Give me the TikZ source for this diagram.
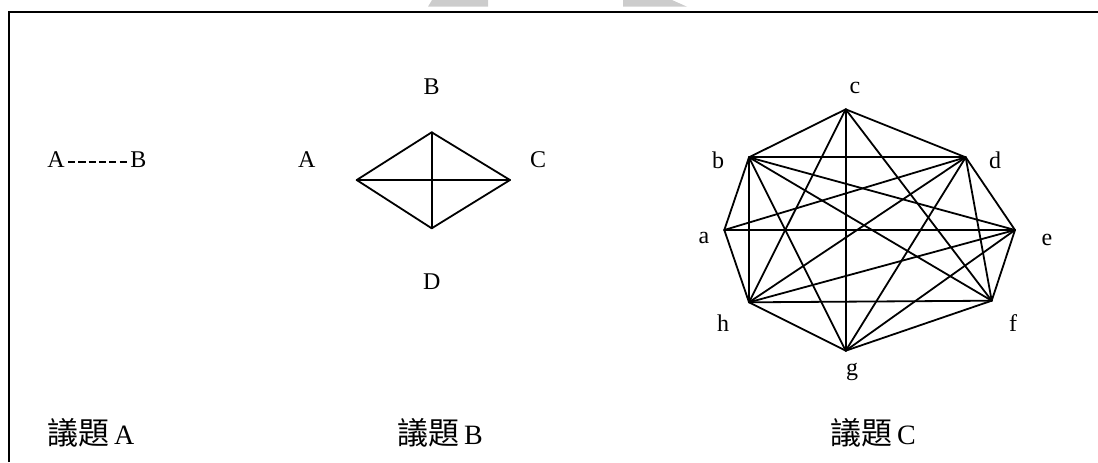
\documentclass[tikz,border=0pt]{standalone}
\usepackage{fontspec}
\setmainfont{Liberation Serif}
\newfontfamily\cjkfont{Noto Sans CJK TC}
\usetikzlibrary{positioning}

\begin{document}
\begin{tikzpicture}[
    x=0.5pt, y=-0.5pt,
    every node/.style={font=\fontsize{12}{14}\selectfont, inner sep=1pt},
    edge/.style={line width=0.9pt, line cap=round, line join=round},
    hyphenline/.style={line width=0.6pt, dash pattern=on 3.6pt off 1.55pt},
    caption/.style={anchor=west, font=\fontsize{14}{16}\selectfont},
    frame/.style={line width=1pt},
    watermark/.style={fill=black!20, draw=none}
]

\useasboundingbox (0,0) rectangle (1098,462);

% Frame and watermark
\draw[frame] (9,462) -- (9,12) -- (1100,12);
\fill[watermark] (432,0) -- (488,0) -- (488,6.7) -- (428,6.7) -- cycle;
\fill[watermark] (623,0) -- (672,0) -- (687,6.7) -- (623,6.7) -- cycle;

% Issue A
\node (a1) at (56,160) {A};
\node (b1) at (138.5,160) {B};
\coordinate (h1) at (68,162);
\coordinate (h2) at (127,162);
\draw[hyphenline] (h1) -- (h2);

% Issue B
\coordinate (qA) at (356.7,180);
\coordinate (qB) at (431.7,132.3);
\coordinate (qC) at (510,180);
\coordinate (qD) at (431.7,228.3);
\node (lA) at (306.7,160) {A};
\node (lB) at (431.7,86.7) {B};
\node (lC) at (538,160) {C};
\node (lD) at (431.7,281.7) {D};
\foreach \u/\v in {qA/qB, qB/qC, qC/qD, qD/qA, qA/qC, qB/qD}
    \draw[edge] (\u) -- (\v);

% Issue C
\coordinate (pa) at (724.3,230);
\coordinate (pb) at (749,157.3);
\coordinate (pc) at (845.7,109.3);
\coordinate (pd) at (965.7,157.3);
\coordinate (pe) at (1015,230);
\coordinate (pf) at (991.7,300.7);
\coordinate (pg) at (845.7,350.7);
\coordinate (ph) at (749,302.3);
\node (la) at (704,238) {a};
\node (lb) at (718,160) {b};
\node (lc) at (855,88) {c};
\node (ld) at (995,160) {d};
\node (le) at (1047,240) {e};
\node (lf) at (1013,323) {f};
\node (lg) at (852,372) {g};
\node (lh) at (723,323) {h};
\foreach \u/\v in {pa/pb, pa/pd, pa/pe, pa/ph,
                   pb/pc, pb/pd, pb/pe, pb/pf, pb/pg, pb/ph,
                   pc/pd, pc/pf, pc/pg, pc/ph,
                   pd/pe, pd/pf, pd/pg, pd/ph,
                   pe/pf, pe/pg, pe/ph,
                   pf/pg, pf/ph, pg/ph}
    \draw[edge] (\u) -- (\v);

% Captions
\node[caption] (capA) at (45,433) {{\cjkfont\fontsize{15.5}{17}\selectfont 議題}\,A};
\node[caption] (capB) at (395,433) {{\cjkfont\fontsize{15.5}{17}\selectfont 議題}\,B};
\node[caption] (capC) at (828,433) {{\cjkfont\fontsize{15.5}{17}\selectfont 議題}\,C};

\end{tikzpicture}
\end{document}
